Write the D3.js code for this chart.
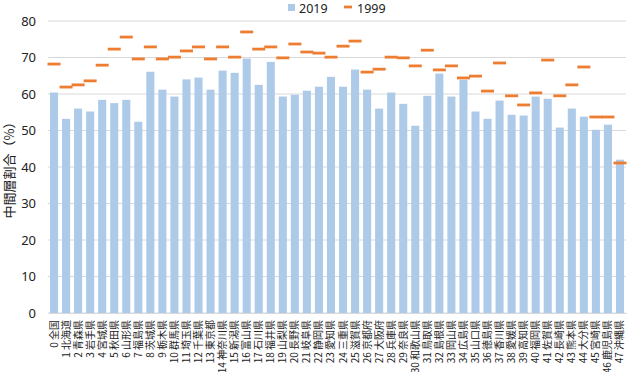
<!DOCTYPE html>
<html>
<head>
<meta charset="utf-8">
<script src="https://cdn.jsdelivr.net/npm/d3@7"></script>
<style>
  body { margin: 0; background: #fff; }
  text { font-family: "Noto Sans CJK JP", "Noto Sans", sans-serif; fill: #222; }
</style>
</head>
<body>
<script>
// prefecture labels (category axis)
var prefs = ["0 全国", "1 北海道", "2 青森県", "3 岩手県", "4 宮城県", "5 秋田県", "6 山形県", "7 福島県",
  "8 茨城県", "9 栃木県", "10 群馬県", "11 埼玉県", "12 千葉県", "13 東京都", "14 神奈川県", "15 新潟県",
  "16 富山県", "17 石川県", "18 福井県", "19 山梨県", "20 長野県", "21 岐阜県", "22 静岡県", "23 愛知県",
  "24 三重県", "25 滋賀県", "26 京都府", "27 大阪府", "28 兵庫県", "29 奈良県", "30 和歌山県", "31 鳥取県",
  "32 島根県", "33 岡山県", "34 広島県", "35 山口県", "36 徳島県", "37 香川県", "38 愛媛県", "39 高知県",
  "40 福岡県", "41 佐賀県", "42 長崎県", "43 熊本県", "44 大分県", "45 宮崎県", "46 鹿児島県", "47 沖縄県"];

// 2019 share (bars)
var v2019 = [60.4, 53.2, 56.0, 55.2, 58.4, 57.5, 58.4, 52.4, 66.1, 61.2, 59.3, 64.0, 64.5, 61.2, 66.4, 65.8,
  69.7, 62.5, 68.8, 59.3, 59.8, 60.9, 62.0, 64.7, 62.0, 66.7, 61.2, 56.0, 60.4, 57.3, 51.3, 59.5,
  65.6, 59.3, 63.9, 55.2, 53.2, 58.2, 54.3, 54.1, 59.3, 58.7, 50.8, 56.0, 53.8, 50.2, 51.6, 42.0];

// 1999 share (dash markers)
var v1999 = [68.2, 61.9, 62.5, 63.6, 67.9, 72.3, 75.6, 69.6, 72.9, 69.6, 70.1, 71.8, 72.9, 69.6, 72.9, 70.1,
  77.0, 72.3, 72.9, 69.9, 73.7, 71.5, 71.2, 70.1, 73.1, 74.5, 66.0, 66.8, 70.1, 69.9, 67.7, 72.0,
  66.6, 67.7, 64.4, 64.9, 60.8, 68.5, 59.5, 57.0, 60.3, 69.3, 59.5, 62.5, 67.4, 53.7, 53.7, 41.1];

var yTicks = [0, 10, 20, 30, 40, 50, 60, 70, 80];

var W = 627, H = 372;
var margin = {top: 21, right: 1, bottom: 59, left: 48},
    width = W - margin.left - margin.right,
    height = H - margin.top - margin.bottom;

var svg = d3.select("body").append("svg")
    .attr("width", W)
    .attr("height", H);

var g = svg.append("g")
    .attr("transform", "translate(" + margin.left + "," + margin.top + ")");

var x = d3.scaleBand().domain(prefs).range([0, width]).paddingInner(0.33).paddingOuter(0.165);
var y = d3.scaleLinear().domain([0, 80]).range([height, 0]);

// gridlines
g.selectAll(".grid")
    .data(yTicks)
  .enter().append("line")
    .attr("x1", 0)
    .attr("x2", width)
    .attr("y1", function(d) { return y(d); })
    .attr("y2", function(d) { return y(d); })
    .style("stroke", "#d9d9d9")
    .style("stroke-width", 1);

// y axis labels
var yAxis = d3.axisLeft(y).tickValues(yTicks).tickSize(0).tickPadding(12);
g.append("g")
    .call(yAxis)
    .call(function(s) { s.select(".domain").remove(); })
    .selectAll("text")
      .style("font-size", "13px")
      .style("font-family", "'Noto Sans', sans-serif")
      .style("fill", "#222");

// bars
g.selectAll(".bar")
    .data(v2019)
  .enter().append("rect")
    .attr("x", function(d, i) { return x(prefs[i]); })
    .attr("width", x.bandwidth())
    .attr("y", function(d) { return y(d); })
    .attr("height", function(d) { return height - y(d); })
    .style("fill", "#adcbe9");

// 1999 dashes
var dashW = 13;
g.selectAll(".dash")
    .data(v1999)
  .enter().append("rect")
    .attr("x", function(d, i) { return x(prefs[i]) + x.bandwidth() / 2 - dashW / 2; })
    .attr("width", dashW)
    .attr("y", function(d) { return y(d) - 1.4; })
    .attr("height", 2.8)
    .style("fill", "#ed7d31");

// x axis
var xAxis = d3.axisBottom(x).tickSize(0).tickPadding(0);
var xg = g.append("g")
    .attr("transform", "translate(0," + height + ")")
    .call(xAxis);
xg.select(".domain").style("stroke", "#d9d9d9");
xg.selectAll("text")
    .style("font-size", "10px")
    .style("text-anchor", "end")
    .attr("transform", "rotate(-90)")
    .attr("x", -7)
    .attr("y", 0)
    .attr("dy", "0.35em")
    .style("fill", "#222");

// y axis title
svg.append("text")
    .attr("transform", "translate(14," + (margin.top + height / 2) + ") rotate(-90)")
    .style("text-anchor", "middle")
    .style("font-size", "13px")
    .text("中間層割合（%）");

// legend
var leg = svg.append("g");
leg.append("rect").attr("x", 288).attr("y", 4).attr("width", 7).attr("height", 7).style("fill", "#adcbe9");
leg.append("text").attr("x", 299).attr("y", 12.5).style("font-size", "12.5px")
    .style("font-family", "'Noto Sans', sans-serif").text("2019");
leg.append("rect").attr("x", 344).attr("y", 5.6).attr("width", 8).attr("height", 2.8).style("fill", "#ed7d31");
leg.append("text").attr("x", 357).attr("y", 12.5).style("font-size", "12.5px")
    .style("font-family", "'Noto Sans', sans-serif").text("1999");
</script>
</body>
</html>
